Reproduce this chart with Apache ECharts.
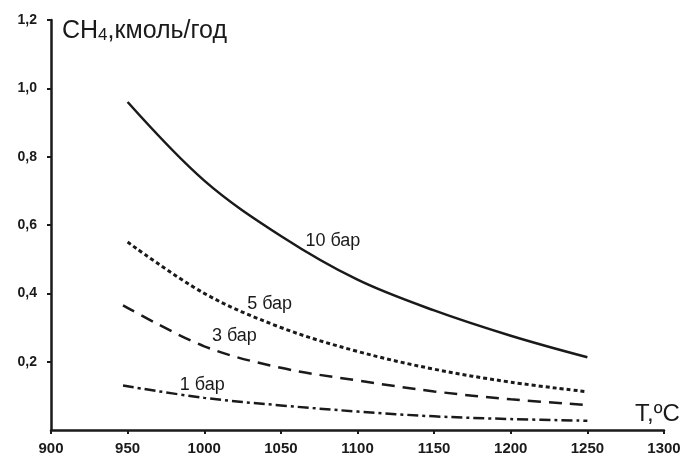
<!DOCTYPE html>
<html>
<head>
<meta charset="utf-8">
<script src="https://cdn.jsdelivr.net/npm/echarts@6/dist/echarts.min.js"></script>
<style>
  html, body { margin: 0; padding: 0; background: #fff; }
  #chart { width: 685px; height: 459px; }
</style>
</head>
<body>
<div id="chart"></div>
<script>
// температура, °C
const temps = [950, 1000, 1050, 1100, 1150, 1200, 1250]
const tempsLow = [947, 1000, 1050, 1100, 1150, 1200, 1250]

// CH4, кмоль/год
const bar10 = [0.96, 0.73, 0.568, 0.44, 0.35, 0.276, 0.213]
const bar5 = [0.55, 0.40, 0.30, 0.23, 0.178, 0.14, 0.112]
const bar3 = [0.365, 0.245, 0.182, 0.145, 0.113, 0.09, 0.073]
const bar1 = [0.13, 0.094, 0.072, 0.054, 0.04, 0.032, 0.027]

// підписи кривих [T, значення]
const labels = [
    { text: '10 бар', at: [1066, 0.552] },
    { text: '5 бар', at: [1028, 0.369] },
    { text: '3 бар', at: [1005, 0.275] },
    { text: '1 бар', at: [984, 0.132] }
]

const font = '"Liberation Sans", Arial, sans-serif'
const ink = '#1a1a1a'

const zip = (xs, ys) => xs.map((x, i) => [x, ys[i]])

function curve(name, xs, ys, dash, width, label) {
    return {
        name,
        type: 'line',
        data: zip(xs, ys),
        smooth: 0.35,
        showSymbol: false,
        silent: true,
        lineStyle: { color: ink, width, type: dash, cap: 'butt' },
        markPoint: {
            symbol: 'circle',
            symbolSize: 0,
            silent: true,
            data: [{
                coord: label.at,
                label: {
                    show: true,
                    formatter: label.text,
                    position: 'right',
                    distance: 0,
                    color: ink,
                    fontFamily: font,
                    fontSize: 18
                }
            }]
        }
    }
}

const chart = echarts.init(document.getElementById('chart'))

chart.setOption({
    animation: false,
    backgroundColor: '#fff',
    grid: { left: 51, right: 21, top: 20, bottom: 29, containLabel: false },
    xAxis: {
        type: 'value',
        min: 900,
        max: 1300,
        interval: 50,
        name: 'T,ºC',
        nameLocation: 'end',
        nameGap: -29,
        nameTextStyle: {
            color: ink, fontFamily: font, fontSize: 24,
            align: 'left', verticalAlign: 'bottom', padding: [0, 0, 4, 0]
        },
        splitLine: { show: false },
        axisLine: { lineStyle: { color: ink, width: 2.5 } },
        axisTick: { length: 4, lineStyle: { color: ink, width: 2 } },
        axisLabel: {
            color: ink, fontFamily: font, fontSize: 15, fontWeight: 'bold', margin: 11,
            formatter: v => String(v)
        }
    },
    yAxis: {
        type: 'value',
        min: 0,
        max: 1.2,
        interval: 0.2,
        name: '{a|CH}{b|4}{a|,кмоль/год}',
        nameLocation: 'end',
        nameGap: -11,
        nameTextStyle: {
            align: 'left',
            verticalAlign: 'middle',
            padding: [0, 0, 0, 11],
            rich: {
                a: { color: ink, fontFamily: font, fontSize: 25 },
                b: { color: ink, fontFamily: font, fontSize: 17, verticalAlign: 'bottom', padding: [9, 0, 0, 0] }
            }
        },
        splitLine: { show: false },
        axisLine: { show: true, lineStyle: { color: ink, width: 2.5 } },
        axisTick: { show: true, length: 4, lineStyle: { color: ink, width: 2 } },
        axisLabel: {
            color: ink, fontFamily: font, fontSize: 14, fontWeight: 'bold', margin: 14,
            showMinLabel: false,
            formatter: v => v.toFixed(1).replace('.', ',')
        }
    },
    series: [
        curve('10 бар', temps, bar10, 'solid', 2.5, labels[0]),
        curve('5 бар', temps, bar5, [4, 3], 3, labels[1]),
        curve('3 бар', tempsLow, bar3, [13, 8], 2.5, labels[2]),
        curve('1 бар', tempsLow, bar1, [11, 4, 3, 4], 2.5, labels[3])
    ]
})
</script>
</body>
</html>
